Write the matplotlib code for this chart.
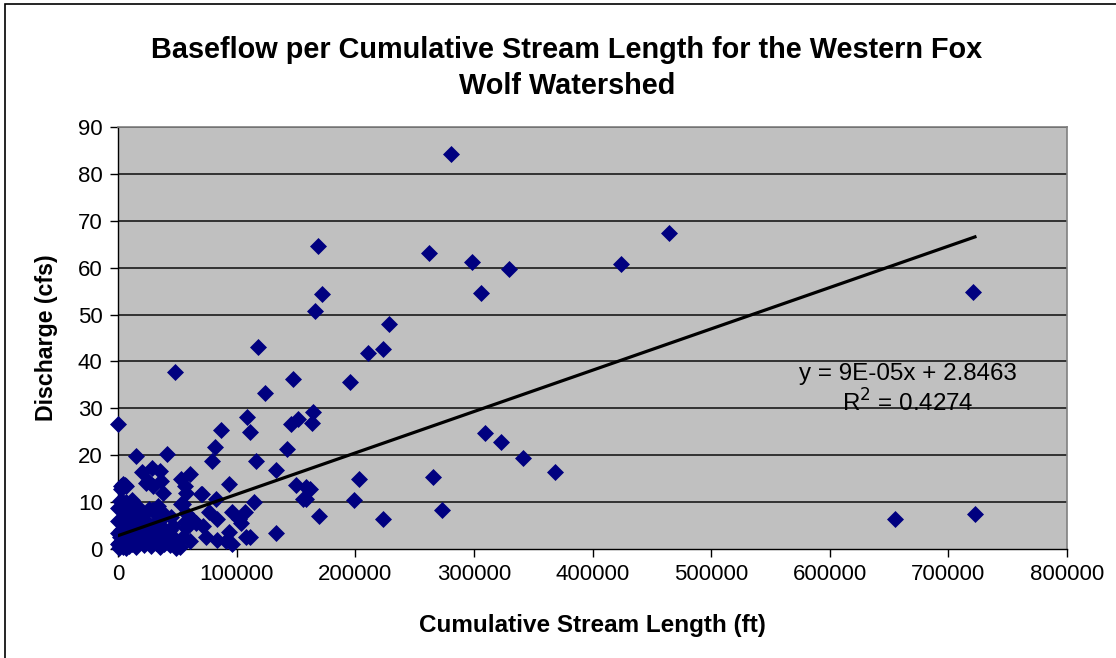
import numpy as np
import matplotlib
matplotlib.use('Agg')
from matplotlib import pyplot as plt
from matplotlib.patches import Rectangle

plt.rcParams['font.family'] = ['Liberation Sans', 'DejaVu Sans']

# cumulative stream length (ft) and baseflow discharge (cfs)
length_ft = [
    281000, 262300, 298100, 329300, 306000, 423900, 464300, 228300, 223500,
    309100, 323100, 341700, 368100, 265400, 273300, 223500, 720900, 722400,
    655400, 169000, 172300, 166100, 211100, 117700, 147500, 195700, 124200,
    108700, 164700, 152100, 145600, 163300, 86800, 111500, 82000, 142500,
    79200, 116600, 133500, 93300, 70500, 82300, 114900, 77000, 83700,
    96100, 106800, 101700, 104000, 71600, 74400, 83400, 93300, 91300,
    96100, 108200, 111000, 133500, 150400, 158800, 161600, 156000, 158800,
    169200, 198800, 203200, 48300, 0, 15400, 41500, 20100, 28900,
    35000, 60300, 23800, 29400, 37800, 53300, 56100, 57500, 2700,
    6900, 69600, 4600, 52700, 54700, 57500, 66000, 56100, 63100,
    57500, 54700, 60300, 51900, 43500, 40700, 49100, 21000, 29400,
    25200, 36500, 4000, 5500, 6900,
    500, 1000, 1500, 2000, 2500, 3000, 3500, 4000, 4500, 5000,
    5500, 6000, 6500, 7000, 7500, 8000, 8500, 9000, 9500, 10000,
    11000, 12000, 13000, 14000, 15000, 16000, 17000, 18000, 19000, 20000,
    21000, 22000, 23000, 24000, 25000, 26000, 27000, 28000, 29000, 30000,
    31000, 32000, 33000, 34000, 35000, 36000, 37000, 38000, 39000, 40000,
    42000, 44000, 46000, 48000, 50000, 0, 0, 0, 0, 1500,
    2500, 12000, 18000, 26000, 33000, 45000,
]
discharge_cfs = [
    84.2, 63.2, 61.3, 59.8, 54.5, 60.8, 67.3, 47.9, 42.6,
    24.7, 22.8, 19.5, 16.5, 15.3, 8.3, 6.4, 54.9, 7.5,
    6.3, 64.7, 54.3, 50.8, 41.9, 43.1, 36.3, 35.6, 33.3,
    28.1, 29.3, 27.7, 26.6, 26.9, 25.4, 25.0, 21.7, 21.3,
    18.7, 18.7, 16.8, 13.9, 11.7, 10.7, 10.1, 7.9, 6.4,
    7.9, 7.9, 6.5, 5.6, 5.0, 2.6, 1.9, 3.6, 1.6,
    1.0, 2.6, 2.6, 3.5, 13.6, 13.3, 12.7, 10.6, 10.7,
    7.1, 10.4, 14.9, 37.7, 26.6, 19.8, 20.3, 16.4, 17.2,
    16.7, 16.1, 14.1, 13.4, 12.0, 14.9, 13.4, 11.9, 13.4,
    13.4, 11.7, 10.1, 9.7, 9.7, 7.6, 5.5, 5.8, 6.2,
    4.4, 2.6, 1.6, 0.5, 4.1, 2.3, 0.3, 7.6, 8.3,
    14.4, 14.4, 13.9, 13.6, 10.1,
    0.3, 1.2, 2.5, 0.8, 4.0, 1.8, 5.5, 0.5, 3.0, 6.8,
    2.2, 1.0, 4.6, 0.2, 7.5, 3.4, 1.5, 5.8, 0.6, 2.9,
    8.2, 1.1, 4.3, 6.2, 0.4, 2.6, 9.0, 3.8, 1.6, 5.2,
    7.6, 0.9, 3.1, 6.0, 1.9, 8.6, 4.9, 0.7, 8.3, 2.4,
    5.6, 1.3, 3.6, 9.2, 0.5, 6.5, 2.0, 4.4, 1.0, 7.2,
    3.0, 0.8, 5.0, 2.2, 1.4, 3.5, 1.0, 6.0, 8.8, 10.2,
    12.8, 10.5, 7.0, 3.3, 8.0, 6.8,
]

# linear trend shown on the chart
slope = 8.82e-05
intercept = 2.8463

x_ticks = [0, 100000, 200000, 300000, 400000, 500000, 600000, 700000, 800000]
y_ticks = [0, 10, 20, 30, 40, 50, 60, 70, 80, 90]

fig = plt.figure(figsize=(11.16, 6.58), dpi=100)
ax = fig.add_axes([118 / 1116, 109 / 658, 949 / 1116, 422 / 658])
ax.set_facecolor('#C0C0C0')

ax.scatter(length_ft, discharge_cfs, marker='D', s=75, color='#000080',
           linewidths=0, zorder=3, clip_on=False)

x_fit = np.array([min(length_ft), max(length_ft)])
ax.plot(x_fit, slope * x_fit + intercept, color='black', lw=2.3, zorder=4)

ax.set_xlim(0, 800000)
ax.set_ylim(0, 90)
ax.set_xticks(x_ticks)
ax.set_xticklabels([str(t) for t in x_ticks])
ax.set_yticks(y_ticks)
ax.tick_params(labelsize=16, direction='out', length=6, width=1, color='black', pad=5)
for y in y_ticks[1:]:
    ax.axhline(y, color='#1a1a1a', lw=1.2, zorder=1)

for side in ['top', 'right']:
    ax.spines[side].set_color('#808080')
    ax.spines[side].set_linewidth(1.2)
for side in ['left', 'bottom']:
    ax.spines[side].set_color('black')
    ax.spines[side].set_linewidth(1)

ax.set_xlabel('Cumulative Stream Length (ft)', fontsize=17.5, fontweight='bold', labelpad=21)
ax.set_ylabel('Discharge (cfs)', fontsize=16.7, fontweight='bold', labelpad=14)

fig.text(567 / 1116, 1 - 68 / 658,
         'Baseflow per Cumulative Stream Length for the Western Fox\nWolf Watershed',
         ha='center', va='center', fontsize=20.8, fontweight='bold', linespacing=1.34)

ax.text(0.832, 0.377, 'y = 9E-05x + 2.8463\nR$^2$ = 0.4274', transform=ax.transAxes,
        ha='center', va='center', fontsize=17.4, linespacing=1.2, zorder=5)

fig.patches.append(Rectangle((5 / 1116, -0.1), 1.2, 1 - 4 / 658 + 0.1,
                             transform=fig.transFigure, fill=False,
                             edgecolor='black', lw=1.2))

fig.savefig('out.png', dpi=100)
